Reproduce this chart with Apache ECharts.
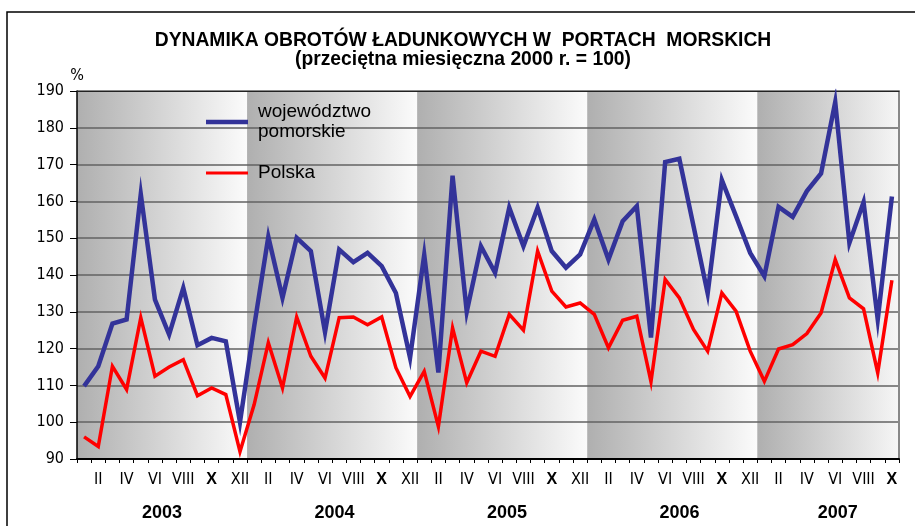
<!DOCTYPE html>
<html><head><meta charset="utf-8">
<script src="https://cdn.jsdelivr.net/npm/echarts@6/dist/echarts.min.js"></script>
<style>html,body{margin:0;padding:0;background:#fff}#c{width:915px;height:526px}</style>
</head><body><div id="c"></div>
<script>
// ---- data ----
const years = ['2003', '2004', '2005', '2006', '2007'];
const monthsPerYear = [12, 12, 12, 12, 10];
const romanMonths = ['I','II','III','IV','V','VI','VII','VIII','IX','X','XI','XII'];
const seriesNames = ['województwo\npomorskie', 'Polska'];
const pomorskie = [
  109.8, 115.2, 126.8, 127.9, 162.0, 133.3, 123.8, 136.5, 120.9, 122.9, 122.0, 100.0,
  126.0, 150.4, 133.8, 150.1, 146.5, 124.5, 146.9, 143.5, 146.0, 142.4, 135.1, 117.5,
  145.5, 113.5, 167.0, 130.0, 147.8, 140.6, 158.3, 147.8, 158.3, 146.5, 142.0, 145.6,
  155.1, 144.2, 154.6, 158.7, 123.0, 170.7, 171.6, 153.3, 135.0, 165.8, 156.0, 146.0,
  139.7, 158.5, 155.8, 162.8, 167.6, 187.0, 148.7, 159.8, 127.9, 161.3
];
const polska = [
  96.0, 93.4, 115.2, 108.9, 128.4, 112.5, 115.0, 117.0, 107.2, 109.3, 107.5, 92.0,
  104.8, 121.6, 109.3, 128.6, 117.9, 112.0, 128.4, 128.6, 126.5, 128.6, 114.8, 107.0,
  113.8, 98.8, 125.6, 110.7, 119.3, 117.9, 129.3, 125.0, 146.5, 135.6, 131.3, 132.4,
  129.3, 120.2, 127.7, 128.8, 111.0, 138.8, 133.8, 125.2, 119.3, 135.1, 130.2, 119.3,
  111.1, 119.9, 121.1, 124.1, 129.7, 144.2, 133.8, 130.8, 113.4, 138.6
];
const yMin = 90, yMax = 190, yStep = 10;

// ---- derived ----
const total = monthsPerYear.reduce((a, b) => a + b, 0);
const monthOf = [];
const yearStart = [];
let acc = 0;
monthsPerYear.forEach((n, k) => { yearStart.push(acc); for (let m = 0; m < n; m++) monthOf.push(m); acc += n; });
const monthLabelPos = [];
monthOf.forEach((m, i) => { if (m % 2 === 1) monthLabelPos.push(i + 0.5); });
const tickPos = [];
for (let i = 0; i <= total; i++) tickPos.push(i);
const yearCenters = yearStart.map((s, k) => s + monthsPerYear[k] / 2 + 0.17 * k);
const bands = yearStart.map((s, k) => [
  { xAxis: s, itemStyle: { color: { type: 'linear', x: 0, y: 0, x2: 1, y2: 0,
      colorStops: [{ offset: 0, color: '#afafaf' }, { offset: 1, color: k === 4 ? '#f6f6f6' : '#fbfbfb' }] } } },
  { xAxis: s + monthsPerYear[k] }
]);

const narrow = "'Liberation Sans Narrow', 'Arial Narrow', 'DejaVu Sans Condensed', 'Liberation Sans', sans-serif";
const sans = "'Liberation Sans', Arial, sans-serif";

const chart = echarts.init(document.getElementById('c'), null, { renderer: 'canvas' });
chart.setOption({
  animation: false,
  backgroundColor: '#ffffff',
  grid: { left: 77, right: 16, top: 91, bottom: 67, containLabel: false },
  graphic: [
    { type: 'rect', silent: true, shape: { x: 7, y: 12, width: 1000, height: 1000 },
      style: { fill: 'none', stroke: '#000', lineWidth: 1.5 } },
    { type: 'text', silent: true, x: 463, y: 41,
      style: { text: 'DYNAMIKA OBROTÓW ŁADUNKOWYCH W  PORTACH  MORSKICH', font: "bold 19.3px " + sans,
               fill: '#000', align: 'center', verticalAlign: 'middle' } },
    { type: 'text', silent: true, x: 463, y: 60,
      style: { text: '(przeciętna miesięczna 2000 r. = 100)', font: "bold 19.3px " + sans,
               fill: '#000', align: 'center', verticalAlign: 'middle' } }
  ],
  legend: {
    left: 206, top: 102, padding: 0, orient: 'vertical', itemWidth: 42, itemHeight: 10, itemGap: 21,
    selectedMode: false,
    textStyle: { fontSize: 19, lineHeight: 20, color: '#000', fontFamily: sans, padding: [0, 0, 0, 5] },
    data: [
      { name: seriesNames[0], icon: 'path://M0,0h42v4.5h-42z', itemStyle: { color: '#333399' } },
      { name: seriesNames[1], icon: 'path://M0,0h42v3h-42z', itemStyle: { color: '#ff0000' } }
    ]
  },
  xAxis: [
    { type: 'value', min: 0, max: total, interval: 1, position: 'bottom', z: 3,
      axisLine: { show: true, onZero: false, lineStyle: { color: '#000', width: 2 } },
      axisTick: { show: true, length: 4, customValues: tickPos, lineStyle: { color: '#000', width: 1 } },
      splitLine: { show: false },
      axisLabel: { customValues: monthLabelPos, margin: 13, fontSize: 16, color: '#000', fontFamily: narrow,
        formatter: v => { const m = monthOf[Math.floor(v)]; return m === 9 ? '{b|X}' : romanMonths[m]; },
        rich: { b: { fontWeight: 'bold', fontSize: 16, fontFamily: sans } } } },
    { type: 'value', min: 0, max: total, position: 'bottom', z: 3,
      axisLine: { show: false }, axisTick: { show: false }, splitLine: { show: false },
      axisLabel: { customValues: yearCenters, margin: 45, fontSize: 18, fontWeight: 'bold', color: '#000', fontFamily: sans,
        formatter: v => { const k = yearCenters.findIndex(c => Math.abs(c - v) < 1e-6); return k >= 0 ? years[k] : ''; } } },
    { type: 'value', min: 0, max: total, position: 'top', z: 3,
      axisLine: { show: true, onZero: false, lineStyle: { color: '#222', width: 1 } },
      axisTick: { show: false }, axisLabel: { show: false }, splitLine: { show: false } }
  ],
  yAxis: [
    { type: 'value', min: yMin, max: yMax, interval: yStep, z: 3,
      name: '%', nameLocation: 'end', nameGap: 7,
      nameTextStyle: { fontSize: 16, color: '#000', fontFamily: narrow, align: 'center' },
      axisLine: { show: true, onZero: false, lineStyle: { color: '#000', width: 1.5 } },
      axisTick: { show: true, length: 7, lineStyle: { color: '#000', width: 1 } },
      axisLabel: { margin: 13, fontSize: 16, color: '#000', fontFamily: narrow },
      splitLine: { show: true, lineStyle: { color: '#626262', width: 1.5 } } },
    { type: 'value', min: yMin, max: yMax, interval: yStep, position: 'right', z: 3,
      axisLine: { show: true, onZero: false, lineStyle: { color: '#888', width: 2 } },
      axisTick: { show: false }, axisLabel: { show: false }, splitLine: { show: false } }
  ],
  series: [
    { type: 'line', name: '_bands', xAxisIndex: 0, yAxisIndex: 0, data: [], z: 1, silent: true,
      markArea: { silent: true, data: bands } },
    { type: 'line', name: seriesNames[0], xAxisIndex: 0, yAxisIndex: 0, z: 5, symbol: 'none',
      data: pomorskie.map((v, i) => [i + 0.5, v]),
      itemStyle: { color: '#333399' },
      lineStyle: { color: '#333399', width: 4.5, join: 'miter', miterLimit: 10 } },
    { type: 'line', name: seriesNames[1], xAxisIndex: 0, yAxisIndex: 0, z: 6, symbol: 'none',
      data: polska.map((v, i) => [i + 0.5, v]),
      itemStyle: { color: '#ff0000' },
      lineStyle: { color: '#ff0000', width: 3.5, join: 'miter', miterLimit: 10 } }
  ]
});
</script></body></html>
